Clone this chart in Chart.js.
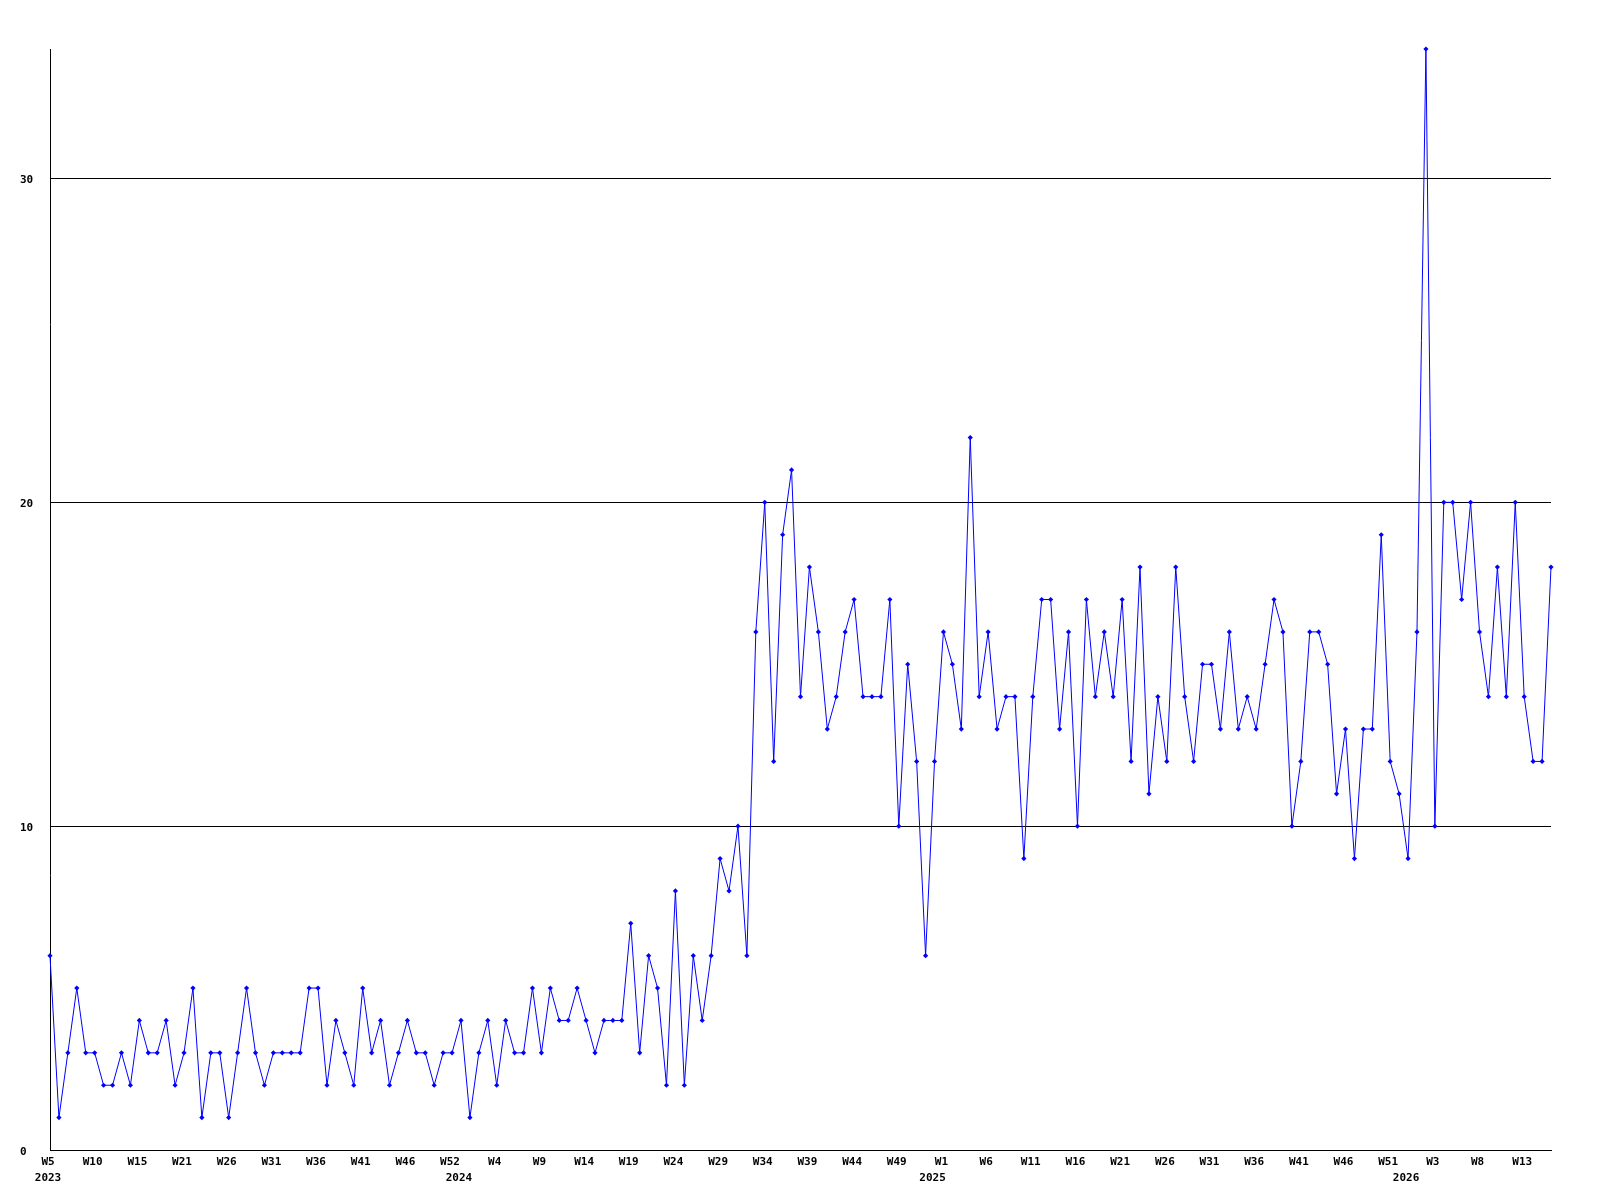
<!DOCTYPE html>
<html>
<head>
<meta charset="utf-8">
<title>Weekly count</title>
<script src="https://cdn.jsdelivr.net/npm/chart.js@4.4.1/dist/chart.umd.min.js"></script>
<style>
    body { margin: 0; background: #ffffff; }
    canvas { display: block; }
</style>
</head>
<body>
<canvas id="weekChart" width="1600" height="1200"></canvas>
<script>
// one value per data week, 2023 W5 .. 2026 W18
const weekValues = [
    6, 1, 3, 5, 3, 3, 2, 2, 3, 2, 4, 3, 3, 4, 2, 3, 5, 1, 3, 3,
    1, 3, 5, 3, 2, 3, 3, 3, 3, 5, 5, 2, 4, 3, 2, 5, 3, 4, 2, 3,
    4, 3, 3, 2, 3, 3, 4, 1, 3, 4, 2, 4, 3, 3, 5, 3, 5, 4, 4, 5,
    4, 3, 4, 4, 4, 7, 3, 6, 5, 2, 8, 2, 6, 4, 6, 9, 8, 10, 6, 16,
    20, 12, 19, 21, 14, 18, 16, 13, 14, 16, 17, 14, 14, 14, 17, 10, 15, 12, 6, 12,
    16, 15, 13, 22, 14, 16, 13, 14, 14, 9, 14, 17, 17, 13, 16, 10, 17, 14, 16, 14,
    17, 12, 18, 11, 14, 12, 18, 14, 12, 15, 15, 13, 16, 13, 14, 13, 15, 17, 16, 10,
    12, 16, 16, 15, 11, 13, 9, 13, 13, 19, 12, 11, 9, 16, 34, 10, 20, 20, 17, 20,
    16, 14, 18, 14, 20, 14, 12, 12, 18
];

// a week label is printed under every 5th point
const weekTicks = ['W5', 'W10', 'W15', 'W21', 'W26', 'W31', 'W36', 'W41', 'W46', 'W52',
    'W4', 'W9', 'W14', 'W19', 'W24', 'W29', 'W34', 'W39', 'W44', 'W49',
    'W1', 'W6', 'W11', 'W16', 'W21', 'W26', 'W31', 'W36', 'W41', 'W46',
    'W51', 'W3', 'W8', 'W13'];
const tickEvery = 5;

// first point of each year
const yearLabels = ['2023', '2024', '2025', '2026'];
const yearStart = [0, 46, 99, 152];

const yTicks = [0, 10, 20, 30];
const yMax = 34;

const pointLabels = weekValues.map((_, i) => String(i));

function tickText(index) {
    let week = (index % tickEvery === 0 && weekTicks[index / tickEvery]) ? weekTicks[index / tickEvery] : '';
    const y = yearStart.indexOf(index);
    if (y >= 0) {
        return [week, yearLabels[y]];
    }
    return week;
}

const tickFont = { family: 'DejaVu Sans Mono', size: 11, weight: 'bold', lineHeight: 16 / 11 };

new Chart(document.getElementById('weekChart'), {
    type: 'line',
    data: {
        labels: pointLabels,
        datasets: [{
            data: weekValues,
            borderColor: '#0000ff',
            backgroundColor: '#0000ff',
            borderWidth: 1,
            tension: 0,
            pointStyle: 'rectRot',
            pointRadius: 2.6,
            pointBorderWidth: 0,
            clip: false
        }]
    },
    options: {
        responsive: false,
        animation: false,
        layout: { padding: { left: 20, top: 49, right: 49, bottom: 0 } },
        plugins: {
            legend: { display: false },
            tooltip: { enabled: false }
        },
        scales: {
            x: {
                type: 'category',
                grid: { display: false, drawTicks: false },
                border: { display: true, color: '#000000', width: 1 },
                ticks: {
                    autoSkip: false,
                    maxRotation: 0,
                    minRotation: 0,
                    padding: 4,
                    labelOffset: -2,
                    color: '#000000',
                    font: tickFont,
                    callback: (value, index) => tickText(index)
                },
                afterFit: scale => { scale.height = 50; }
            },
            y: {
                min: 0,
                max: yMax,
                grid: { color: '#000000', lineWidth: 1, drawTicks: false },
                border: { display: true, color: '#000000', width: 1 },
                ticks: {
                    crossAlign: 'far',
                    labelOffset: 2,
                    color: '#000000',
                    font: tickFont,
                    stepSize: 10
                },
                afterBuildTicks: scale => {
                    scale.ticks = yTicks.map(v => ({ value: v }));
                },
                afterFit: scale => { scale.width = 30; }
            }
        }
    }
});
</script>
</body>
</html>
